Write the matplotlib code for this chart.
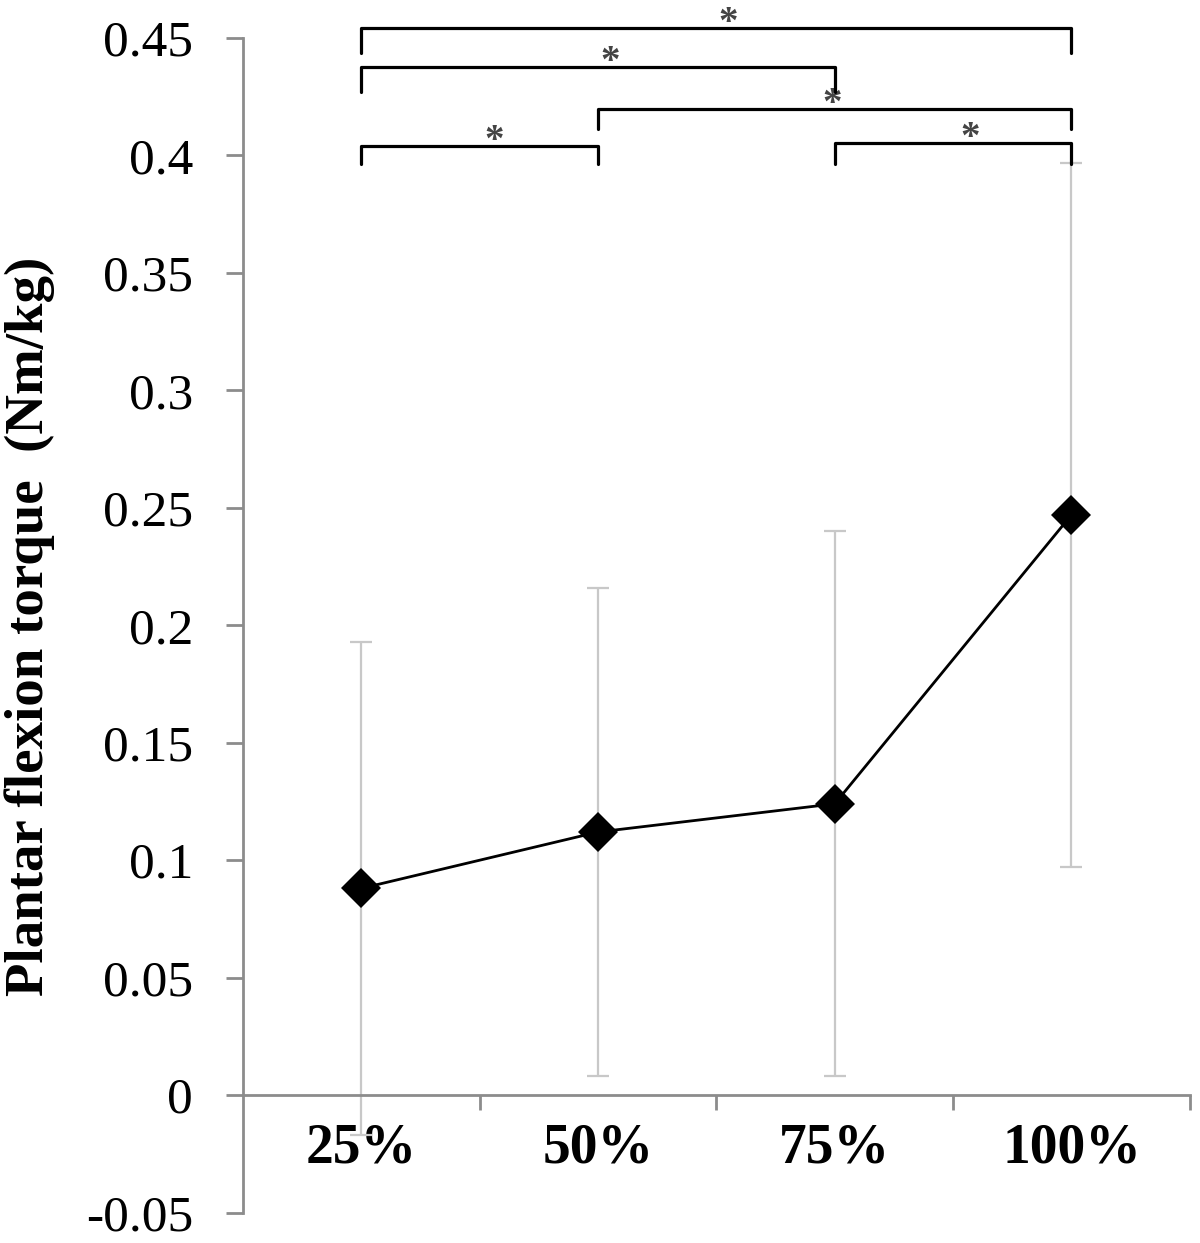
import matplotlib
matplotlib.use('Agg')
import matplotlib.pyplot as plt

# data
labels = ['25%', '50%', '75%', '100%']
torque_mean = [0.088, 0.112, 0.124, 0.247]
torque_sd = [0.105, 0.104, 0.116, 0.150]

yticks = [-0.05, 0, 0.05, 0.1, 0.15, 0.2, 0.25, 0.3, 0.35, 0.4, 0.45]
ytick_labels = ['-0.05', '0', '0.05', '0.1', '0.15', '0.2', '0.25', '0.3', '0.35', '0.4', '0.45']

# significance brackets: (from, to, bar height, leg end)
bracket_from = [0, 0, 1, 0, 2]
bracket_to = [3, 2, 3, 1, 3]
bracket_top = [0.4542, 0.4377, 0.4196, 0.4039, 0.4052]
bracket_leg = [0.4437, 0.4272, 0.4111, 0.3963, 0.3963]
star_x = [1.55, 1.05, 1.99, 0.56, 2.57]

plt.rcParams['font.family'] = ['Liberation Serif', 'DejaVu Serif']
axis_grey = '#8c8c8c'

fig = plt.figure(figsize=(12, 12.43), dpi=100)
ax = fig.add_axes([0.2025, 0.0245, 0.789, 0.9449])

x = list(range(len(labels)))
ax.errorbar(x, torque_mean, yerr=torque_sd, fmt='none', ecolor='#c8c8c8',
            elinewidth=1.6, capsize=8, capthick=1.6, zorder=2)
ax.plot(x, torque_mean, color='black', lw=2, marker='D', markersize=20,
        markeredgewidth=0, zorder=3)

for i in range(len(bracket_from)):
    a, b = bracket_from[i], bracket_to[i]
    ax.plot([a, a, b, b], [bracket_leg[i], bracket_top[i], bracket_top[i], bracket_leg[i]],
            color='black', lw=2.3, solid_joinstyle='round', solid_capstyle='round',
            clip_on=False, zorder=4)
    ax.text(star_x[i], bracket_top[i] - 0.002, '*', fontsize=28, color='#444444',
            fontweight='bold', ha='center', va='baseline', clip_on=False)

ax.set_xlim(-0.5, 3.5)
ax.set_ylim(-0.05, 0.45)

ax.spines['top'].set_visible(False)
ax.spines['right'].set_visible(False)
ax.spines['bottom'].set_position(('data', 0))
for s in ['left', 'bottom']:
    ax.spines[s].set_color(axis_grey)
    ax.spines[s].set_linewidth(2)

ax.set_yticks(yticks)
ax.set_yticklabels(ytick_labels)
ax.tick_params(axis='y', direction='out', length=12, width=2, color=axis_grey,
               labelsize=37, pad=24)

ax.set_xticks(x)
ax.set_xticklabels(labels, fontweight='bold')
ax.set_xticks([0.5, 1.5, 2.5, 3.5], minor=True)
ax.tick_params(axis='x', which='major', length=0, labelsize=40, pad=20)
ax.tick_params(axis='x', which='minor', direction='out', length=11, width=2,
               color=axis_grey)

fig.text(0.025, 0.496, 'Plantar flexion torque  (Nm/kg)', rotation=90,
         fontsize=39.5, fontweight='bold', ha='center', va='center')

fig.savefig('out.png', dpi=100)
